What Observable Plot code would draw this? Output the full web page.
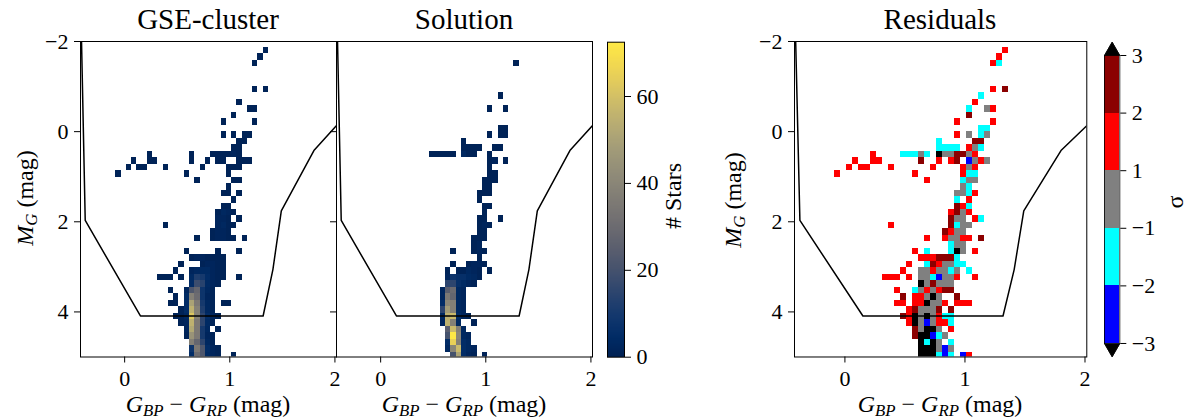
<!DOCTYPE html>
<html><head><meta charset="utf-8">
<script src="https://cdn.jsdelivr.net/npm/d3@7"></script>
<script src="https://cdn.jsdelivr.net/npm/@observablehq/plot@0.6"></script>
<style>
body{margin:0;background:#fff;}
#fig{position:relative;width:1188px;height:419px;font-family:"Liberation Serif","DejaVu Serif",serif;color:#000;overflow:hidden;background:#fff}
#fig svg{position:absolute;max-width:none}
#fig svg, #fig svg text{font-family:"Liberation Serif","DejaVu Serif",serif !important}
.t{position:absolute;transform:translate(-50%,-50%);white-space:nowrap;line-height:1}
.title{font-size:29px}
.lab{font-size:24px}
.rot{transform:translate(-50%,-50%) rotate(-90deg)}
sub{font-size:70%;vertical-align:-0.25em;line-height:0}
</style></head>
<body><div id="fig"></div>
<script>
// ---- data ----
const xDomain = [-0.42, 2.015];
const yDomain = [-2, 5];
const xEdge0 = -0.4333, xBin = 0.05;     // colour bin edges
const yEdge0 = -2.011, yBin = 0.14378;   // magnitude bin edges
const xTicks = [0, 1, 2];
const yTicks = [-2, 0, 2, 4];
const countTicks = [0, 20, 40, 60];
const countMax = 72.5;
const sigmaBounds = [-3, -2, -1, 1, 2, 3];
const sigmaColors = ["black", "#0000ff", "#00ffff", "#808080", "#ff0000", "#8b0000", "black"];

// selection polygon (colour, magnitude)
const polyX = [-0.412, -0.375, 0.15, 1.317, 1.41, 1.49, 1.80, 2.08];
const polyY = [-2.2, 1.97, 4.09, 4.09, 3.06, 1.76, 0.42, -0.30];

// [row, col, count] : GSE-cluster
const gseCells = [
[1,35,1],[2,34,1],[3,33,1],[7,33,1],[7,35,1],[9,30,1],[10,32,1],[10,33,1],[11,29,1],
[12,27,1],[12,33,1],[14,27,1],[14,29,1],[14,31,1],[14,32,1],[15,30,1],[15,31,1],[16,29,1],[16,30,1],
[17,13,1],[17,21,1],[17,25,1],[17,26,1],[17,27,1],[17,28,1],[17,29,2],[17,30,1],
[18,10,1],[18,13,1],[18,14,1],[18,21,1],[18,24,1],[18,26,1],[18,27,1],[18,30,1],[18,31,1],[18,32,1],
[19,9,1],[19,11,1],[19,12,1],[19,16,1],[19,23,1],[19,28,1],[19,29,1],[19,30,1],
[20,7,1],[20,20,1],[20,28,1],[21,22,1],[21,29,1],[21,30,1],[22,28,1],
[23,27,1],[23,28,1],[23,30,1],[24,29,1],[25,27,1],[25,28,1],
[26,26,1],[26,27,3],[26,28,2],[26,29,1],[27,26,2],[27,27,2],[27,28,1],[27,30,1],
[28,16,1],[28,26,2],[28,27,3],[28,28,1],[28,29,1],[29,25,1],[29,26,2],[29,27,2],[29,28,1],
[30,22,1],[30,25,1],[30,26,2],[30,27,2],[30,28,1],[30,29,1],[30,31,1],
[32,20,1],[32,26,1],[32,30,1],
[33,21,1],[33,22,2],[33,23,2],[33,24,1],[33,25,1],[33,26,1],[33,27,1],
[34,19,1],[34,23,1],[34,24,2],[34,25,2],[34,26,1],[34,27,1],
[35,18,1],[35,21,2],[35,22,3],[35,23,4],[35,24,4],[35,25,2],[35,26,1],[35,27,1],
[36,15,1],[36,16,1],[36,17,1],[36,19,1],[36,21,4],[36,22,12],[36,23,10],[36,24,5],[36,25,2],[36,26,1],[36,27,1],[36,30,1],
[37,21,5],[37,22,18],[37,23,14],[37,24,4],[37,25,2],[37,26,1],
[38,17,1],[38,20,2],[38,21,22],[38,22,28],[38,23,8],[38,24,3],[38,25,1],
[39,18,1],[39,20,4],[39,21,38],[39,22,30],[39,23,8],[39,24,2],[39,25,1],
[40,17,1],[40,18,1],[40,20,5],[40,21,50],[40,22,35],[40,23,10],[40,24,3],[40,25,1],[40,27,1],[40,28,1],
[41,19,1],[41,20,5],[41,21,55],[41,22,38],[41,23,12],[41,24,3],[41,25,1],
[42,18,1],[42,19,1],[42,20,3],[42,21,62],[42,22,38],[42,23,15],[42,24,5],[42,25,2],[42,26,1],
[43,19,1],[43,20,2],[43,21,55],[43,22,35],[43,23,15],[43,24,4],[43,25,1],
[44,20,2],[44,21,52],[44,22,35],[44,23,10],[44,24,3],[44,26,1],
[45,20,1],[45,21,45],[45,22,35],[45,23,10],[45,24,2],[45,25,1],
[46,21,38],[46,22,28],[46,23,15],[46,24,3],[46,25,1],
[47,21,8],[47,22,35],[47,23,22],[47,24,5],[47,25,2],[47,26,1],
[48,21,5],[48,22,30],[48,23,22],[48,24,4],[48,25,2],[48,26,1],[48,29,1]
];

// [row, col, count] : Solution
const solCells = [
[3,34,1],[8,31,1],[10,29,1],[10,32,1],[13,31,1],[13,32,1],[14,29,1],[14,31,1],[14,32,1],[15,24,1],
[16,24,1],[16,25,1],[16,26,1],[16,27,1],[16,30,1],[16,31,1],
[17,18,1],[17,19,1],[17,20,1],[17,21,1],[17,22,1],[17,24,3],[17,25,1],[17,26,1],[17,29,1],
[18,29,1],[18,30,2],[18,32,1],[19,29,1],[20,29,1],[20,30,1],[21,28,1],[21,29,1],[21,30,1],
[22,28,1],[22,29,1],[23,27,1],[23,28,1],[23,29,1],[24,27,1],[25,28,1],[25,29,1],[26,28,1],
[27,27,1],[27,28,1],[27,31,1],[28,27,1],[28,28,2],[28,29,1],[29,27,1],[29,28,1],
[30,26,1],[30,27,1],[30,28,1],[31,26,1],[31,27,2],[32,22,1],[32,26,1],[32,27,2],[32,28,1],[33,27,1],
[34,22,1],[34,25,1],[34,26,2],[34,27,2],[34,28,1],
[35,21,1],[35,23,1],[35,24,1],[35,25,3],[35,26,2],[35,27,1],[35,29,1],
[36,21,2],[36,22,8],[36,23,6],[36,24,6],[36,25,4],[36,26,3],[36,27,1],
[37,21,15],[37,22,15],[37,23,6],[37,24,4],[37,25,2],[37,26,1],
[38,20,2],[38,21,25],[38,22,30],[38,23,3],[38,24,2],
[39,20,2],[39,21,35],[39,22,28],[39,23,3],[39,24,2],
[40,20,5],[40,21,40],[40,22,38],[40,23,3],[40,24,2],
[41,20,15],[41,21,48],[41,22,38],[41,23,3],[41,24,2],
[42,20,3],[42,21,55],[42,22,58],[42,23,5],[42,24,2],[42,25,1],
[43,20,2],[43,21,55],[43,22,38],[43,23,3],[43,26,1],
[44,21,25],[44,22,58],[44,23,38],[44,24,3],
[45,21,20],[45,22,72],[45,23,40],[45,24,3],[45,25,2],
[46,21,5],[46,22,65],[46,23,38],[46,24,5],[46,25,3],
[47,21,3],[47,22,40],[47,23,58],[47,24,5],[47,25,3],[47,26,2],
[48,22,20],[48,23,50],[48,24,5],[48,25,2],[48,26,1],[48,28,1]
];

// [row, col, sigma] : Residuals (|sigma|>3 shown black)
const resCells = [
[1,35,1.5],[2,34,1.5],[3,33,1.5],[3,34,-1.5],[7,33,1.5],[7,35,2.5],[8,31,-1.5],[9,30,1.5],
[10,29,-1.5],[10,32,0],[10,33,1.5],[11,29,2.5],[12,27,1.5],[12,33,1.5],[13,31,-1.5],[13,32,-1.5],
[14,27,1.5],[14,29,0],[14,31,-1.5],[14,32,0],[15,24,-1.5],[15,30,2.5],[15,31,2.5],
[16,24,-1.5],[16,25,-1.5],[16,26,-1.5],[16,27,-1.5],[16,29,1.5],[16,30,0],[16,31,-1.5],
[17,13,1.5],[17,18,-1.5],[17,19,-1.5],[17,20,-1.5],[17,21,0],[17,22,-1.5],[17,24,-4],[17,25,0],[17,26,0],[17,27,2.5],[17,28,2.5],[17,29,0],[17,30,1.5],
[18,10,1.5],[18,13,1.5],[18,14,1.5],[18,21,2.5],[18,24,1.5],[18,26,1.5],[18,27,2.5],[18,29,-2.5],[18,30,0],[18,31,1.5],[18,32,0],
[19,9,1.5],[19,11,1.5],[19,12,1.5],[19,16,1.5],[19,23,1.5],[19,28,1.5],[19,29,0],[19,30,1.5],
[20,7,1.5],[20,20,1.5],[20,28,1.5],[20,29,-1.5],[20,30,-1.5],
[21,22,1.5],[21,28,-1.5],[21,29,0],[21,30,0],[22,28,0],[22,29,-1.5],
[23,27,0],[23,28,0],[23,29,-1.5],[23,30,1.5],[24,27,-1.5],[24,29,1.5],
[25,27,2.5],[25,28,1.5],[25,29,-1.5],[26,26,1.5],[26,27,2.5],[26,28,0],[26,29,1.5],
[27,26,2.5],[27,27,0],[27,28,0],[27,30,1.5],[27,31,-1.5],
[28,16,1.5],[28,26,2.5],[28,27,-1.5],[28,28,0],[28,29,0],
[29,25,2.5],[29,26,1.5],[29,27,0],[29,28,0],
[30,22,1.5],[30,25,1.5],[30,26,0],[30,27,0],[30,28,1.5],[30,29,1.5],[30,31,2.5],
[31,26,-1.5],[31,27,0],[31,28,0],
[32,20,1.5],[32,22,-1.5],[32,26,-1.5],[32,27,-4],[32,28,0],[32,30,1.5],
[33,21,1.5],[33,22,1.5],[33,23,1.5],[33,24,2.5],[33,25,2.5],[33,26,2.5],[33,27,-1.5],
[34,19,1.5],[34,22,-1.5],[34,23,2.5],[34,24,1.5],[34,25,0],[34,26,0],[34,27,-1.5],[34,28,-1.5],
[35,18,1.5],[35,21,0],[35,22,0],[35,23,1.5],[35,24,0],[35,25,0],[35,26,-1.5],[35,27,0],[35,29,-1.5],
[36,15,1.5],[36,16,1.5],[36,17,1.5],[36,19,1.5],[36,21,0],[36,22,0],[36,23,-1.5],[36,24,-2.5],[36,25,0],[36,26,0],[36,27,1.5],[36,30,1.5],
[37,21,-4],[37,22,0],[37,23,2.5],[37,24,0],[37,25,0],[37,26,0],
[38,17,1.5],[38,20,-1.5],[38,21,0],[38,22,1.5],[38,23,0],[38,24,1.5],[38,25,2.5],[38,26,2.5],
[39,18,2.5],[39,20,1.5],[39,21,1.5],[39,22,0],[39,23,-4],[39,24,0],[39,27,2.5],
[40,17,1.5],[40,18,1.5],[40,20,1.5],[40,21,1.5],[40,22,-4],[40,23,0],[40,24,0],[40,25,1.5],[40,27,1.5],[40,28,1.5],[40,29,1.5],
[41,19,1.5],[41,20,2.5],[41,21,0],[41,22,0],[41,23,0],[41,24,2.5],[41,26,2.5],
[42,18,2.5],[42,19,1.5],[42,20,-4],[42,21,0],[42,22,-4],[42,23,0],[42,24,1.5],[42,25,-1.5],[42,26,-1.5],
[43,19,1.5],[43,20,-4],[43,21,0],[43,22,-2.5],[43,23,0],[43,24,1.5],[43,25,1.5],[43,26,-1.5],
[44,20,2.5],[44,21,0],[44,22,-4],[44,23,-4],[44,24,0],[44,26,1.5],
[45,20,2.5],[45,21,-4],[45,22,-4],[45,23,-2.5],[45,24,-1.5],[45,25,0],
[46,21,-4],[46,22,-1.5],[46,23,-4],[46,24,0],[46,26,-1.5],
[47,21,-4],[47,22,-4],[47,23,-4],[47,24,0],[47,25,-2.5],[47,26,0],
[48,21,-4],[48,22,-4],[48,23,-4],[48,24,-1.5],[48,25,-2.5],[48,26,-1.5],[48,28,-2.5],[48,29,1.5]
];

// ---- drawing ----
const FONT = "'Liberation Serif', 'DejaVu Serif', serif";
const fig = document.getElementById("fig");
const fmtNum = d => (d < 0 ? "\u2212" + Math.abs(d) : String(d));
const polygon = polyX.map((x, i) => ({x, y: polyY[i]}));
const FT = 41, FB = 356.5; // frame top/bottom (px)
const baseStyle = {fontFamily: FONT, fontSize: "22px", background: "transparent", color: "black", overflow: "visible"};

function place(svg, left, top) {
  svg.style.left = left + "px"; svg.style.top = top + "px";
  fig.appendChild(svg);
}

function panel(frameLeft, frameW, cells, color, showY) {
  const ml = 70, mr = 10;
  const svg = Plot.plot({
    width: frameW + ml + mr, height: 419,
    marginLeft: ml, marginRight: mr, marginTop: FT, marginBottom: 419 - FB,
    x: {domain: xDomain},
    y: {domain: yDomain, reverse: true},
    color,
    style: baseStyle,
    marks: [
      Plot.rect(cells, {
        x1: d => xEdge0 + d[1] * xBin, x2: d => xEdge0 + (d[1] + 1) * xBin,
        y1: d => yEdge0 + d[0] * yBin, y2: d => yEdge0 + (d[0] + 1) * yBin,
        fill: d => d[2], inset: 0, clip: true, shapeRendering: "crispEdges"
      }),
      Plot.line(polygon, {x: "x", y: "y", stroke: "black", strokeWidth: 1.5, clip: true}),
      Plot.frame({stroke: "black", strokeWidth: 1}),
      Plot.axisX({ticks: xTicks, tickSize: 6, tickPadding: 7, label: null, tickFormat: fmtNum, fontSize: 22, fontFamily: FONT}),
      Plot.axisY({ticks: yTicks, tickSize: 6, tickPadding: 6, label: null, fontSize: 22, fontFamily: FONT,
                  tickFormat: showY ? fmtNum : () => ""})
    ]
  });
  place(svg, frameLeft - ml, 0);
}

const countColor = {type: "linear", scheme: "cividis", domain: [0, countMax]};
const sigmaColor = {type: "threshold", domain: sigmaBounds, range: sigmaColors};

panel(80.3, 256, gseCells, countColor, true);
panel(336.3, 256, solCells, countColor, false);
panel(793.6, 292.3, resCells, sigmaColor, true);

// colorbar for counts
{
  const ml = 2, mr = 60, top = 41.7, bot = 356.7;
  const steps = d3.range(0, countMax, 0.25);
  const svg = Plot.plot({
    width: 17 + ml + mr, height: 419,
    marginLeft: ml, marginRight: mr, marginTop: top, marginBottom: 419 - bot,
    x: {domain: [0, 1], axis: null},
    y: {domain: [0, countMax]},
    color: countColor,
    style: baseStyle,
    marks: [
      Plot.rect(steps, {x1: 0, x2: 1, y1: d => d, y2: d => Math.min(d + 0.25, countMax), fill: d => d + 0.125, inset: 0, shapeRendering: "crispEdges"}),
      Plot.frame({stroke: "black", strokeWidth: 1}),
      Plot.axisY({anchor: "right", ticks: countTicks, tickSize: 6, tickPadding: 6, label: null, fontSize: 22, fontFamily: FONT})
    ]
  });
  place(svg, 607.3 - ml, 0);
}

// colorbar for sigma (discrete, with extensions)
{
  const ml = 2, mr = 60, top = 41.7, bot = 356.3;
  const ext = 0.231;
  const segs = d3.range(sigmaBounds.length - 1).map(i => ({i, v: (sigmaBounds[i] + sigmaBounds[i + 1]) / 2}));
  const n = segs.length;
  const lowTri = [{x: 0, y: 0}, {x: 1, y: 0}, {x: 0.5, y: -ext}, {x: 0, y: 0}];
  const highTri = [{x: 0, y: n}, {x: 1, y: n}, {x: 0.5, y: n + ext}, {x: 0, y: n}];
  const outline = [{x: 0, y: 0}, {x: 0.5, y: -ext}, {x: 1, y: 0}, {x: 1, y: n}, {x: 0.5, y: n + ext}, {x: 0, y: n}, {x: 0, y: 0}];
  const svg = Plot.plot({
    width: 15.3 + ml + mr, height: 419,
    marginLeft: ml, marginRight: mr, marginTop: top, marginBottom: 419 - bot,
    x: {domain: [0, 1], axis: null},
    y: {domain: [-ext, n + ext]},
    color: sigmaColor,
    style: baseStyle,
    marks: [
      Plot.rect(segs, {x1: 0, x2: 1, y1: d => d.i, y2: d => d.i + 1, fill: "v", inset: 0, shapeRendering: "crispEdges"}),
      Plot.line(lowTri, {x: "x", y: "y", fill: "black", stroke: "black", strokeWidth: 0.8}),
      Plot.line(highTri, {x: "x", y: "y", fill: "black", stroke: "black", strokeWidth: 0.8}),
      Plot.line(outline, {x: "x", y: "y", stroke: "black", strokeWidth: 0.8}),
      Plot.axisY({anchor: "right", ticks: d3.range(n + 1), tickSize: 6, tickPadding: 6, label: null, fontSize: 22, fontFamily: FONT,
                  tickFormat: i => fmtNum(sigmaBounds[i])})
    ]
  });
  place(svg, 1104 - ml, 0);
}

// ---- texts ----
function txt(html, x, y, cls) {
  const d = document.createElement("div");
  d.className = "t " + cls;
  d.innerHTML = html;
  d.style.left = x + "px"; d.style.top = y + "px";
  fig.appendChild(d);
}
const xlab = "<i>G</i><sub><i>BP</i></sub> \u2212 <i>G</i><sub><i>RP</i></sub> (mag)";
const ylab = "<i>M</i><sub><i>G</i></sub> (mag)";
txt("GSE-cluster", 208, 19, "title");
txt("Solution", 464, 19, "title");
txt("Residuals", 940, 19, "title");
txt(xlab, 208, 404, "lab");
txt(xlab, 464, 404, "lab");
txt(xlab, 940, 404, "lab");
txt(ylab, 25, 198, "lab rot");
txt(ylab, 733, 200, "lab rot");
txt("# Stars", 673, 196, "lab rot");
txt("\u03c3", 1175, 202, "lab rot");
</script>
</body></html>
